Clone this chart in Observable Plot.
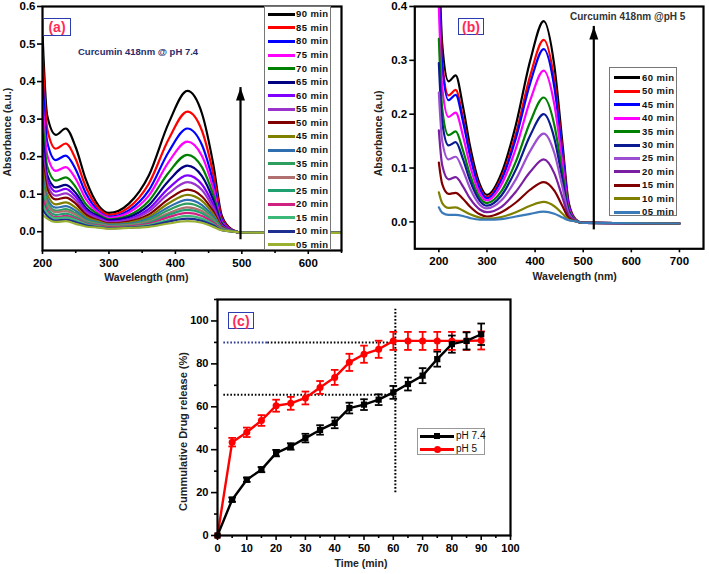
<!DOCTYPE html>
<html><head><meta charset="utf-8">
<script src="https://cdn.jsdelivr.net/npm/d3@7"></script>
<script src="https://cdn.jsdelivr.net/npm/@observablehq/plot@0.6"></script>
<style>
body{margin:0;background:#fff;}
#root{position:relative;width:709px;height:574px;overflow:hidden;background:#fff;font-family:Arial,"Liberation Sans",Helvetica,sans-serif;}
.tag{position:absolute;border:1.5px solid #2a3cb0;color:#ff2a55;font-weight:bold;font-size:14px;text-align:center;box-sizing:border-box;background:#fff;display:flex;align-items:center;justify-content:center;}
.lg{position:absolute;background:#fff;border:1px solid #777;box-sizing:border-box;}
.lg .ln{position:absolute;height:3px;}
.lg .tx{position:absolute;white-space:nowrap;line-height:12px;}
.note{position:absolute;white-space:nowrap;font-weight:bold;}
</style></head>
<body><div id="root"></div>
<script>
// ---------- Panel (a): Curcumin 418nm @ pH 7.4 ----------
const wlA = [200, 207, 220, 235, 250, 265, 285, 300, 330, 360, 390, 418, 440, 457, 470, 485, 500, 650];
const timesA = ["90 min","85 min","80 min","75 min","70 min","65 min","60 min","55 min","50 min","45 min","40 min","35 min","30 min","25 min","20 min","15 min","10 min","05 min"];
const colorsA = ["#000000","#ff0000","#0000ff","#ff00ff","#008000","#000080","#8000ff","#9933cc","#800000","#808000","#2f6fb0","#2e9e5e","#b07070","#20a070","#d02080","#3cb878","#1f2f8f","#99b030"];
const absA = [
  [.53,.31,.258,.275,.225,.14,.068,.05,.075,.15,.29,.375,.315,.18,.042,.006,-.002,-.003],
  [.475,.275,.221,.235,.193,.12,.061,.045,.065,.128,.247,.32,.269,.154,.036,.005,-.002,-.003],
  [.41,.24,.191,.203,.166,.103,.054,.04,.057,.11,.213,.275,.231,.132,.031,.004,-.002,-.003],
  [.35,.205,.162,.172,.141,.088,.05,.037,.051,.096,.186,.24,.202,.115,.027,.004,-.002,-.003],
  [.30,.175,.136,.145,.119,.074,.045,.033,.044,.082,.158,.205,.172,.098,.023,.003,-.002,-.003],
  [.26,.152,.118,.125,.103,.064,.041,.03,.039,.071,.136,.176,.148,.085,.02,.003,-.002,-.003],
  [.23,.14,.107,.114,.093,.058,.037,.027,.034,.061,.116,.15,.126,.072,.017,.003,-.002,-.003],
  [.21,.127,.096,.102,.084,.052,.034,.025,.031,.054,.102,.132,.111,.063,.015,.002,-.002,-.003],
  [.19,.115,.086,.091,.075,.046,.03,.022,.027,.046,.087,.112,.094,.054,.013,.002,-.002,-.003],
  [.17,.1,.073,.078,.064,.04,.027,.02,.024,.04,.076,.098,.082,.047,.011,.002,-.002,-.003],
  [.15,.088,.064,.068,.056,.035,.024,.018,.021,.035,.066,.085,.071,.041,.01,.002,-.002,-.003],
  [.135,.079,.056,.06,.049,.031,.022,.016,.019,.031,.058,.075,.063,.036,.009,.002,-.002,-.003],
  [.12,.072,.052,.055,.045,.028,.02,.015,.017,.027,.05,.065,.055,.031,.008,.001,-.002,-.003],
  [.105,.063,.045,.048,.039,.025,.018,.013,.015,.024,.045,.058,.049,.028,.007,.001,-.002,-.003],
  [.09,.055,.039,.042,.034,.022,.016,.012,.014,.021,.039,.05,.042,.024,.006,.001,-.002,-.003],
  [.075,.05,.036,.038,.031,.02,.014,.01,.012,.018,.032,.042,.035,.02,.005,.001,-.002,-.003],
  [.06,.042,.03,.032,.026,.017,.012,.009,.011,.015,.027,.035,.029,.017,.004,.001,-.002,-.003],
  [.045,.035,.026,.028,.021,.014,.011,.008,.01,.013,.022,.028,.024,.013,.004,.001,-.002,-.003]
];
const arrowA = [{x: 498, y1: 0, y2: 0.384}];
const xTicksA = [200, 300, 400, 500, 600];
const xMinorA = [250, 350, 450, 550, 650];
const yTicksA = [0, 0.1, 0.2, 0.3, 0.4, 0.5, 0.6];

// ---------- Panel (b): Curcumin 418nm @pH 5 ----------
const wlB = [200, 207, 220, 235, 250, 265, 285, 300, 330, 360, 390, 418, 440, 457, 470, 485, 500, 700];
const timesB = ["60 min","50 min","45 min","40 min","35 min","30 min","25 min","20 min","15 min","10 min","05 min"];
const colorsB = ["#000000","#ff0000","#0000ff","#ff00ff","#008000","#0a1a90","#9b4fd0","#7b1fa2","#800000","#808000","#3a7ab8"];
const absB = [
  [.5,.33,.261,.272,.215,.14,.07,.05,.09,.18,.3,.373,.29,.145,.035,.004,-.002,-.003],
  [.46,.3,.235,.245,.194,.126,.064,.046,.082,.163,.272,.338,.263,.131,.032,.004,-.002,-.003],
  [.43,.29,.226,.236,.187,.122,.061,.044,.078,.155,.258,.321,.25,.125,.03,.003,-.002,-.003],
  [.40,.25,.195,.203,.16,.104,.053,.04,.069,.136,.226,.281,.218,.109,.026,.003,-.002,-.003],
  [.34,.21,.161,.168,.133,.087,.045,.035,.057,.112,.186,.231,.18,.09,.022,.003,-.002,-.003],
  [.295,.185,.142,.148,.117,.076,.039,.03,.049,.097,.161,.2,.155,.078,.019,.002,-.002,-.003],
  [.24,.15,.116,.121,.096,.062,.032,.025,.04,.079,.132,.164,.128,.064,.015,.002,-.002,-.003],
  [.17,.105,.079,.083,.066,.043,.023,.018,.028,.056,.093,.116,.09,.045,.011,.002,-.002,-.003],
  [.11,.07,.052,.054,.043,.028,.014,.01,.018,.036,.06,.074,.058,.029,.007,.001,-.002,-.003],
  [.055,.035,.026,.027,.021,.014,.008,.006,.009,.018,.03,.037,.029,.015,.004,.001,-.002,-.003],
  [.027,.017,.013,.013,.011,.007,.004,.004,.005,.01,.015,.019,.015,.008,.003,.001,-.002,-.003]
];
const arrowB = [{x: 522, y1: 0, y2: 0.363}];
const xTicksB = [200, 300, 400, 500, 600, 700];
const yTicksB = [0, 0.1, 0.2, 0.3, 0.4];

// ---------- Panel (c): cumulative release ----------
const timeC = [0,5,10,15,20,25,30,35,40,45,50,55,60,65,70,75,80,85,90];
const relPH74 = [0,16.7,26,30.7,38.4,41.5,45.4,49.2,52.5,59.4,61,63.3,66.7,70.6,74.5,82.2,89.2,90.7,93.8];
const errPH74 = [0,1,1,1.2,1.5,1.5,2,2.2,2.5,2.5,2.5,2.5,3,3,3.5,3.5,4,4,5];
const relPH5 = [0,43.5,48.1,53.6,60.5,61.6,64.1,69,73.7,80.7,84.5,86.8,90.7,90.7,90.7,90.7,90.7,90.7,90.9];
const errPH5 = [0,2,2.2,2.5,2.8,3,3,3,3.5,4,4,4,4.2,4.2,4.2,4.2,4.2,4.2,4.2];
const seriesC = ["pH 7.4", "pH 5"];
const colorsC = ["#000000", "#ff0000"];
const guideH = [{y: 90, x1: 2, x2: 17}, {y: 90, x1: 17, x2: 60}, {y: 65.6, x1: 2, x2: 60}];
const guideHColors = ["#2b3990", "#000000", "#000000"];
const guideV = [{x: 60.7, y1: 20.2, y2: 105.7}];
const xTicksC = [0,10,20,30,40,50,60,70,80,90,100];
const xMinorC = [5,15,25,35,45,55,65,75,85,95];
const yTicksC = [0,20,40,60,80,100];
const yMinorC = [10,30,50,70,90,110];

// ---------- helpers ----------
const FONT = 'Arial, "Liberation Sans", Helvetica, sans-serif';
const root = document.getElementById("root");
function put(el, left, top) {
  el.style.position = "absolute"; el.style.left = left + "px"; el.style.top = top + "px";
  root.appendChild(el); return el;
}
const arrowHead = {draw(ctx) { ctx.moveTo(0, 0); ctx.lineTo(-4.5, 13); ctx.lineTo(4.5, 13); ctx.closePath(); }};

function spectraPlot(o) {
  const rows = o.times.flatMap((t, i) => o.wl.map((w, j) => ({t, w, a: o.abs[i][j]})));
  return Plot.plot({
    width: o.width, height: o.height,
    marginLeft: o.ml, marginRight: o.mr, marginTop: o.mt, marginBottom: o.mb,
    x: {domain: o.xDomain}, y: {domain: o.yDomain},
    color: {domain: o.times, range: o.colors},
    style: {fontFamily: FONT, color: "#000", background: "transparent", overflow: "visible"},
    marks: [
      Plot.line(rows, {x: "w", y: "a", z: "t", stroke: "t", strokeWidth: 2.2, curve: "monotone-x", clip: true}),
      Plot.ruleX(o.arrow, {x: "x", y1: "y1", y2: "y2", stroke: "#000", strokeWidth: 2.2, insetTop: 8}),
      Plot.dot(o.arrow, {x: "x", y: "y2", symbol: arrowHead, fill: "#000", stroke: "none", r: 5}),
      Plot.frame({stroke: "#000", strokeWidth: 2.2}),
      Plot.axisX({ticks: o.xTicks, tickSize: 4, tickPadding: 4.5, fontSize: 11.5, fontWeight: "bold", label: null, strokeWidth: 1.6}),
      ...(o.xMinor ? [Plot.axisX({ticks: o.xMinor, tickSize: 3, tickFormat: () => "", label: null, strokeWidth: 1.6})] : []),
      Plot.axisY({ticks: o.yTicks, tickSize: 5, tickPadding: o.yPad, tickFormat: d3.format(".1f"), fontSize: 11.5, fontWeight: "bold", label: null, strokeWidth: 1.6}),
      Plot.text([o.xLabel], {text: d => d, frameAnchor: "bottom", dx: o.xlDx, dy: o.xlDy, textAnchor: "middle", lineAnchor: "middle", fontSize: 10.5, fontWeight: "bold", fill: "#222"}),
      Plot.text([o.yLabel], {text: d => d, frameAnchor: "left", dx: o.ylDx, dy: o.ylDy, rotate: -90, textAnchor: "middle", lineAnchor: "middle", fontSize: 10.5, fontWeight: "bold", fill: "#222"})
    ]
  });
}

function legendBox(o) {
  const box = document.createElement("div");
  box.className = "lg";
  box.style.width = o.w + "px"; box.style.height = o.h + "px";
  if (o.border) box.style.borderColor = o.border;
  o.items.forEach((name, i) => {
    const cy = o.row0 + i * o.step;
    const ln = document.createElement("div");
    ln.className = "ln";
    ln.style.left = o.lineX + "px"; ln.style.width = o.lineW + "px";
    ln.style.top = (cy - 1.5) + "px"; ln.style.background = o.colors[i];
    box.appendChild(ln);
    if (o.markers) {
      const m = document.createElement("div");
      const s = o.markers[i] === "square" ? 6 : 7;
      m.style.cssText = `position:absolute;width:${s}px;height:${s}px;background:${o.colors[i]};left:${o.lineX + o.lineW / 2 - s / 2}px;top:${cy - s / 2}px;` + (o.markers[i] === "circle" ? "border-radius:50%;" : "");
      box.appendChild(m);
    }
    const tx = document.createElement("div");
    tx.className = "tx";
    tx.textContent = name;
    tx.style.left = o.textX + "px"; tx.style.top = (cy - 6) + "px";
    tx.style.fontSize = o.fontSize + "px"; tx.style.fontWeight = o.fontWeight;
    tx.style.letterSpacing = (o.ls || 0) + "px";
    tx.style.color = "#111";
    box.appendChild(tx);
  });
  return put(box, o.left, o.top);
}

function tag(text, left, top, w, h) {
  const d = document.createElement("div");
  d.className = "tag"; d.textContent = text;
  d.style.width = w + "px"; d.style.height = h + "px";
  return put(d, left, top);
}
function note(text, left, top, size, color) {
  const d = document.createElement("div");
  d.className = "note"; d.textContent = text;
  d.style.fontSize = size + "px"; d.style.color = color; d.style.lineHeight = "12px";
  return put(d, left, top);
}

// ---------- draw (a) ----------
put(spectraPlot({
  width: 350, height: 290, ml: 42, mr: 9, mt: 6, mb: 40,
  xDomain: [200, 650], yDomain: [-0.05, 0.6],
  wl: wlA, times: timesA, colors: colorsA, abs: absA, arrow: arrowA,
  xTicks: xTicksA, xMinor: xMinorA, yTicks: yTicksA, yPad: 2,
  xLabel: "Wavelength (nm)", yLabel: "Absorbance (a.u.)",
  xlDx: -45.7, xlDy: 27.3, ylDx: -34.7, ylDy: 3.7
}), 0, 0);

// ---------- draw (b) ----------
put(spectraPlot({
  width: 349, height: 290, ml: 54.3, mr: 6, mt: 6, mb: 41.7,
  xDomain: [150, 750], yDomain: [-0.05, 0.4],
  wl: wlB, times: timesB, colors: colorsB, abs: absB, arrow: arrowB,
  xTicks: xTicksB, xMinor: null, yTicks: yTicksB, yPad: 2.6,
  xLabel: "Wavelength (nm)", yLabel: "Absorbance (a.u)",
  xlDx: 15.5, xlDy: 27.7, ylDx: -36, ylDy: 5.8
}), 360, 0);

// ---------- draw (c) ----------
const rowsC = [
  ...timeC.map((t, i) => ({s: "pH 5", t, v: relPH5[i], e: errPH5[i]})),
  ...timeC.map((t, i) => ({s: "pH 7.4", t, v: relPH74[i], e: errPH74[i]}))
];
const withErr = rowsC.filter(d => d.e > 0);
const plotC = Plot.plot({
  width: 360, height: 284, marginLeft: 47, marginRight: 20, marginTop: 9, marginBottom: 39,
  x: {domain: [0, 100]}, y: {domain: [0, 110]},
  color: {domain: seriesC, range: colorsC},
  style: {fontFamily: FONT, color: "#000", background: "transparent", overflow: "visible"},
  marks: [
    Plot.link(guideH, {x1: "x1", x2: "x2", y1: "y", y2: "y", stroke: (d, i) => guideHColors[i], strokeWidth: 2, strokeDasharray: "1.6,1.9"}),
    Plot.link(guideV, {x1: "x", x2: "x", y1: "y1", y2: "y2", stroke: "#000", strokeWidth: 2, strokeDasharray: "1.6,1.9"}),
    Plot.line(rowsC, {x: "t", y: "v", z: "s", stroke: "s", strokeWidth: 2.4}),
    Plot.ruleX(withErr, {x: "t", y1: d => d.v - d.e, y2: d => d.v + d.e, stroke: "s", strokeWidth: 1.8}),
    Plot.link(withErr, {x1: d => d.t - 1.3, x2: d => d.t + 1.3, y1: d => d.v + d.e, y2: d => d.v + d.e, stroke: "s", strokeWidth: 1.8}),
    Plot.link(withErr, {x1: d => d.t - 1.3, x2: d => d.t + 1.3, y1: d => d.v - d.e, y2: d => d.v - d.e, stroke: "s", strokeWidth: 1.8}),
    Plot.dot(rowsC, {x: "t", y: "v", fill: "s", stroke: "none", symbol: d => d.s === "pH 7.4" ? "square" : "circle", r: 3.5}),
    Plot.frame({stroke: "#000", strokeWidth: 2.2}),
    Plot.axisX({ticks: xTicksC, tickSize: 5, tickPadding: 4, fontSize: 11, fontWeight: "bold", label: null, strokeWidth: 1.6}),
    Plot.axisX({ticks: xMinorC, tickSize: 3, tickFormat: () => "", label: null, strokeWidth: 1.6}),
    Plot.axisY({ticks: yTicksC, tickSize: 6, tickPadding: 3, fontSize: 11, fontWeight: "bold", label: null, strokeWidth: 1.6}),
    Plot.axisY({ticks: yMinorC, tickSize: 3, tickFormat: () => "", label: null, strokeWidth: 1.6}),
    Plot.text(["Time (min)"], {text: d => d, frameAnchor: "bottom", dx: -3, dy: 28.3, textAnchor: "middle", lineAnchor: "middle", fontSize: 10.5, fontWeight: "bold", fill: "#222"}),
    Plot.text(["Cummulative Drug release (%)"], {text: d => d, frameAnchor: "left", dx: -33.7, dy: 14, rotate: -90, textAnchor: "middle", lineAnchor: "middle", fontSize: 11, fontWeight: "bold", fill: "#222"})
  ]
});
put(plotC, 170, 290);

// ---------- overlays: legends, tags, notes ----------
legendBox({left: 264, top: 6, w: 67, h: 244, items: timesA, colors: colorsA,
  row0: 7.3, step: 13.57, lineX: 3.3, lineW: 27, textX: 31, fontSize: 9.5, fontWeight: "bold", ls: 0.4});
legendBox({left: 609, top: 67, w: 68, h: 149, items: timesB, colors: colorsB,
  row0: 9.7, step: 13.46, lineX: 4.3, lineW: 26, textX: 32, fontSize: 9.5, fontWeight: "bold", ls: 0.4});
legendBox({left: 417, top: 428, w: 68, h: 27, items: seriesC, colors: colorsC, markers: ["square", "circle"], border: "#999",
  row0: 7, step: 13.3, lineX: 2, lineW: 34, textX: 38, fontSize: 10, fontWeight: "normal"});

tag("(a)", 43, 18, 28, 18);
tag("(b)", 458, 18, 26, 17);
tag("(c)", 228, 312, 26, 17);

note("Curcumin 418nm @ pH 7.4", 78, 46, 9.5, "#2b2b6b");
note("Curcumin 418nm @pH 5", 570, 11, 10, "#333");
</script></body></html>
